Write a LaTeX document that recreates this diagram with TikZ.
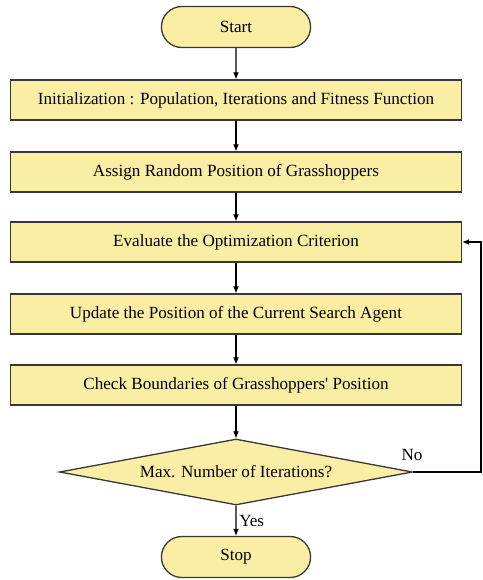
\documentclass[tikz,border=0pt]{standalone}
\usepackage{fontspec}
\setmainfont{Liberation Serif}
\usetikzlibrary{shapes.geometric,shapes.misc,arrows.meta}

\definecolor{boxfill}{RGB}{250,238,165}
\definecolor{boxline}{RGB}{55,55,55}

\tikzset{
    chartfont/.style={font=\fontsize{14.6}{17}\selectfont},
    stepbox/.style={chartfont, draw=boxline, line width=1.1pt, fill=boxfill, minimum width=13.53cm, minimum height=1.2cm},
    terminal/.style={chartfont, draw=boxline, line width=1.1pt, fill=boxfill, rounded rectangle, minimum width=4.71cm, minimum height=1.23cm},
    decision/.style={chartfont, draw=boxline, line width=1.1pt, fill=boxfill, diamond, aspect=5.3, minimum width=10.59cm, minimum height=1.98cm, inner sep=0pt},
    flow/.style={draw=black, line width=0.9pt, -{Latex[length=6pt,width=5pt]}}
}

\begin{document}
\begin{tikzpicture}

    \useasboundingbox (0,0) rectangle (14.49,-17.4);

    % Start and the steps
    \node[terminal] (start) at (7.08, -0.81) {Start};
    \node[stepbox] (init) at (7.08, -3.0) {Initialization : Population, Iterations and Fitness Function};
    \node[stepbox] (assign) at (7.08, -5.16) {Assign Random Position of Grasshoppers};
    \node[stepbox] (evaluate) at (7.08, -7.26) {Evaluate the Optimization Criterion};
    \node[stepbox] (update) at (7.08, -9.42) {Update the Position of the Current Search Agent};
    \node[stepbox] (check) at (7.08, -11.55) {Check Boundaries of Grasshoppers\textquotesingle{} Position};

    % The test and the stop
    \node[decision] (maxiter) at (7.08, -14.16) {Max. Number of Iterations?};
    \node[terminal] (stop) at (7.08, -16.71) {Stop};

    \coordinate (loopdown) at (14.43, -14.16);
    \coordinate (loopup) at (14.43, -7.26);

    % Arrows down the chart
    \draw[flow] (start) -- (init);
    \draw[flow] (init) -- (assign);
    \draw[flow] (assign) -- (evaluate);
    \draw[flow] (evaluate) -- (update);
    \draw[flow] (update) -- (check);
    \draw[flow] (check) -- (maxiter);
    \draw[flow] (maxiter) -- (stop) node[midway, right, chartfont, xshift=-1pt] {Yes};

    % Back to the evaluation when not done
    \draw[flow] (maxiter.east) -- (loopdown) -- (loopup) -- (evaluate.east);
    \node[chartfont] (nolabel) at (12.36, -13.65) {No};

\end{tikzpicture}
\end{document}
